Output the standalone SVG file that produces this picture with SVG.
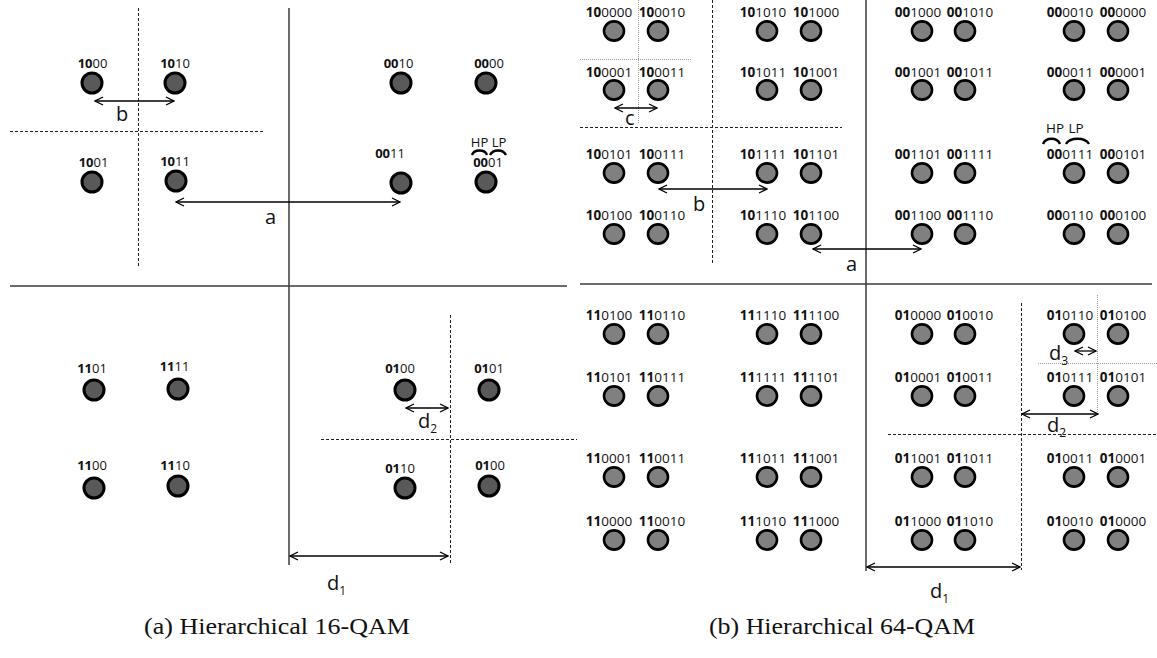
<svg xmlns="http://www.w3.org/2000/svg" width="1157" height="658" viewBox="0 0 1157 658">
<style>
.p16{fill:#595959;stroke:#000;stroke-width:3}
.p64{fill:#808080;stroke:#000;stroke-width:2.6}
.l16{font-family:"Open Sans",sans-serif;font-size:13px;fill:#111;text-anchor:middle}
.l64{font-family:"Open Sans",sans-serif;font-size:13.5px;fill:#111;text-anchor:middle}
.b{font-weight:bold}
.axis{stroke:#3a3a3a;stroke-width:1.5;fill:none}
.dash{stroke:#222;stroke-width:1;stroke-dasharray:3 2;fill:none}
.dot{stroke:#9a9a9a;stroke-width:1;stroke-dasharray:1 1;fill:none}
.arr{stroke:#000;stroke-width:1.3;fill:none;marker-start:url(#ah);marker-end:url(#ah)}
.sym{font-family:"Open Sans",sans-serif;font-size:20px;fill:#111}
.sub{font-size:12px}
.brace{stroke:#000;stroke-width:2.4;fill:none}
.cap{font-family:"Liberation Serif",serif;font-size:24px;fill:#111}
</style>
<defs>
<marker id="ah" viewBox="0 0 10 10" refX="9" refY="5" markerWidth="10" markerHeight="10" markerUnits="userSpaceOnUse" orient="auto-start-reverse">
<path d="M1,1 L9,5 L1,9" fill="none" stroke="#000" stroke-width="1.3"/>
</marker>
</defs>
<rect width="1157" height="658" fill="#fff"/>

<g id="grid">
<line class="axis" x1="289" y1="8" x2="289" y2="565"/>
<line class="axis" x1="10" y1="286" x2="567" y2="286"/>
<line class="dash" x1="138.5" y1="8" x2="138.5" y2="266"/>
<line class="dash" x1="10" y1="131.5" x2="265" y2="131.5"/>
<line class="dash" x1="450.5" y1="315" x2="450.5" y2="565"/>
<line class="dash" x1="321" y1="439.5" x2="577" y2="439.5"/>

<line class="axis" x1="866" y1="0" x2="866" y2="571"/>
<line class="axis" x1="580" y1="284" x2="1152" y2="284"/>
<line class="dash" x1="712.5" y1="0" x2="712.5" y2="265"/>
<line class="dash" x1="580" y1="127.5" x2="842" y2="127.5"/>
<line class="dot" x1="638.5" y1="0" x2="638.5" y2="123"/>
<line class="dot" x1="580" y1="59.5" x2="692" y2="59.5"/>
<line class="dash" x1="1021.5" y1="303" x2="1021.5" y2="570"/>
<line class="dash" x1="888" y1="434.5" x2="1157" y2="434.5"/>
<line class="dot" x1="1097.5" y1="295" x2="1097.5" y2="415"/>
<line class="dot" x1="1038" y1="363.5" x2="1157" y2="363.5"/>
</g>

<g id="nodes16">
<g id="q16-1000"><circle class="p16" cx="92" cy="83" r="10"/><text class="l16" x="92.5" y="68"><tspan class="b">10</tspan>00</text></g>
<g id="q16-1010"><circle class="p16" cx="175" cy="83" r="10"/><text class="l16" x="175" y="68"><tspan class="b">10</tspan>10</text></g>
<g id="q16-0010"><circle class="p16" cx="401" cy="83" r="10"/><text class="l16" x="398.5" y="68"><tspan class="b">00</tspan>10</text></g>
<g id="q16-0000"><circle class="p16" cx="486" cy="83" r="10"/><text class="l16" x="489" y="68"><tspan class="b">00</tspan>00</text></g>
<g id="q16-1001"><circle class="p16" cx="92" cy="182" r="10"/><text class="l16" x="93.5" y="167"><tspan class="b">10</tspan>01</text></g>
<g id="q16-1011"><circle class="p16" cx="176" cy="181" r="10"/><text class="l16" x="175" y="166"><tspan class="b">10</tspan>11</text></g>
<g id="q16-0011"><circle class="p16" cx="401" cy="183" r="10"/><text class="l16" x="390" y="158"><tspan class="b">00</tspan>11</text></g>
<g id="q16-0001"><circle class="p16" cx="486" cy="182" r="10"/><text class="l16" x="488" y="167"><tspan class="b">00</tspan>01</text>
<text class="l16" x="479.5" y="147">HP</text><text class="l16" x="499" y="147">LP</text>
<path class="brace" d="M472,155 C474,149 485,149 487,155"/><path class="brace" d="M490,155 C493,149 503,149 506,155"/></g>
<g id="q16-1101"><circle class="p16" cx="94" cy="390" r="10"/><text class="l16" x="92" y="373"><tspan class="b">11</tspan>01</text></g>
<g id="q16-1111"><circle class="p16" cx="178" cy="389" r="10"/><text class="l16" x="174.5" y="371"><tspan class="b">11</tspan>11</text></g>
<g id="q16-0100a"><circle class="p16" cx="405" cy="390" r="10"/><text class="l16" x="400" y="373"><tspan class="b">01</tspan>00</text></g>
<g id="q16-0101"><circle class="p16" cx="489" cy="390" r="10"/><text class="l16" x="489" y="373"><tspan class="b">01</tspan>01</text></g>
<g id="q16-1100"><circle class="p16" cx="94" cy="488" r="10"/><text class="l16" x="92" y="470"><tspan class="b">11</tspan>00</text></g>
<g id="q16-1110"><circle class="p16" cx="178" cy="486" r="10"/><text class="l16" x="175" y="470"><tspan class="b">11</tspan>10</text></g>
<g id="q16-0110"><circle class="p16" cx="405" cy="488" r="10"/><text class="l16" x="400" y="473"><tspan class="b">01</tspan>10</text></g>
<g id="q16-0100b"><circle class="p16" cx="489" cy="486" r="10"/><text class="l16" x="490" y="470"><tspan class="b">01</tspan>00</text></g>
</g>

<g id="nodes64">
<g id="q64-100000"><ellipse class="p64" cx="614" cy="31" rx="10" ry="9.6"/><text class="l64" x="609" y="17"><tspan class="b">10</tspan>0000</text></g>
<g id="q64-100010"><ellipse class="p64" cx="658" cy="31" rx="10" ry="9.6"/><text class="l64" x="662" y="17"><tspan class="b">10</tspan>0010</text></g>
<g id="q64-101010"><ellipse class="p64" cx="767" cy="31" rx="10" ry="9.6"/><text class="l64" x="763" y="17"><tspan class="b">10</tspan>1010</text></g>
<g id="q64-101000"><ellipse class="p64" cx="811" cy="31" rx="10" ry="9.6"/><text class="l64" x="816" y="17"><tspan class="b">10</tspan>1000</text></g>
<g id="q64-001000"><ellipse class="p64" cx="922" cy="31" rx="10" ry="9.6"/><text class="l64" x="918" y="17"><tspan class="b">00</tspan>1000</text></g>
<g id="q64-001010"><ellipse class="p64" cx="965" cy="31" rx="10" ry="9.6"/><text class="l64" x="970" y="17"><tspan class="b">00</tspan>1010</text></g>
<g id="q64-000010"><ellipse class="p64" cx="1074" cy="31" rx="10" ry="9.6"/><text class="l64" x="1070" y="17"><tspan class="b">00</tspan>0010</text></g>
<g id="q64-000000"><ellipse class="p64" cx="1118" cy="31" rx="10" ry="9.6"/><text class="l64" x="1123" y="17"><tspan class="b">00</tspan>0000</text></g>
<g id="q64-100001"><ellipse class="p64" cx="614" cy="90" rx="10" ry="9.6"/><text class="l64" x="609" y="77"><tspan class="b">10</tspan>0001</text></g>
<g id="q64-100011"><ellipse class="p64" cx="658" cy="90" rx="10" ry="9.6"/><text class="l64" x="662" y="77"><tspan class="b">10</tspan>0011</text></g>
<g id="q64-101011"><ellipse class="p64" cx="767" cy="90" rx="10" ry="9.6"/><text class="l64" x="763" y="77"><tspan class="b">10</tspan>1011</text></g>
<g id="q64-101001"><ellipse class="p64" cx="811" cy="90" rx="10" ry="9.6"/><text class="l64" x="816" y="77"><tspan class="b">10</tspan>1001</text></g>
<g id="q64-001001"><ellipse class="p64" cx="922" cy="90" rx="10" ry="9.6"/><text class="l64" x="918" y="77"><tspan class="b">00</tspan>1001</text></g>
<g id="q64-001011"><ellipse class="p64" cx="965" cy="90" rx="10" ry="9.6"/><text class="l64" x="970" y="77"><tspan class="b">00</tspan>1011</text></g>
<g id="q64-000011"><ellipse class="p64" cx="1074" cy="90" rx="10" ry="9.6"/><text class="l64" x="1070" y="77"><tspan class="b">00</tspan>0011</text></g>
<g id="q64-000001"><ellipse class="p64" cx="1118" cy="90" rx="10" ry="9.6"/><text class="l64" x="1123" y="77"><tspan class="b">00</tspan>0001</text></g>
<g id="q64-100101"><ellipse class="p64" cx="614" cy="173" rx="10" ry="9.6"/><text class="l64" x="609" y="159"><tspan class="b">10</tspan>0101</text></g>
<g id="q64-100111"><ellipse class="p64" cx="658" cy="173" rx="10" ry="9.6"/><text class="l64" x="662" y="159"><tspan class="b">10</tspan>0111</text></g>
<g id="q64-101111"><ellipse class="p64" cx="767" cy="173" rx="10" ry="9.6"/><text class="l64" x="763" y="159"><tspan class="b">10</tspan>1111</text></g>
<g id="q64-101101"><ellipse class="p64" cx="811" cy="173" rx="10" ry="9.6"/><text class="l64" x="816" y="159"><tspan class="b">10</tspan>1101</text></g>
<g id="q64-001101"><ellipse class="p64" cx="922" cy="173" rx="10" ry="9.6"/><text class="l64" x="918" y="159"><tspan class="b">00</tspan>1101</text></g>
<g id="q64-001111"><ellipse class="p64" cx="965" cy="173" rx="10" ry="9.6"/><text class="l64" x="970" y="159"><tspan class="b">00</tspan>1111</text></g>
<g id="q64-000111"><ellipse class="p64" cx="1074" cy="173" rx="10" ry="9.6"/><text class="l64" x="1070" y="159"><tspan class="b">00</tspan>0111</text>
<text class="l64" x="1055" y="133">HP</text><text class="l64" x="1076" y="133">LP</text>
<path class="brace" d="M1043,144 C1046,137 1057,137 1060,144"/><path class="brace" d="M1066,144 C1070,137 1085,137 1089,144"/></g>
<g id="q64-000101"><ellipse class="p64" cx="1118" cy="173" rx="10" ry="9.6"/><text class="l64" x="1123" y="159"><tspan class="b">00</tspan>0101</text></g>
<g id="q64-100100"><ellipse class="p64" cx="614" cy="234" rx="10" ry="9.6"/><text class="l64" x="609" y="220"><tspan class="b">10</tspan>0100</text></g>
<g id="q64-100110"><ellipse class="p64" cx="658" cy="234" rx="10" ry="9.6"/><text class="l64" x="662" y="220"><tspan class="b">10</tspan>0110</text></g>
<g id="q64-101110"><ellipse class="p64" cx="767" cy="234" rx="10" ry="9.6"/><text class="l64" x="763" y="220"><tspan class="b">10</tspan>1110</text></g>
<g id="q64-101100"><ellipse class="p64" cx="811" cy="234" rx="10" ry="9.6"/><text class="l64" x="816" y="220"><tspan class="b">10</tspan>1100</text></g>
<g id="q64-001100"><ellipse class="p64" cx="922" cy="234" rx="10" ry="9.6"/><text class="l64" x="918" y="220"><tspan class="b">00</tspan>1100</text></g>
<g id="q64-001110"><ellipse class="p64" cx="965" cy="234" rx="10" ry="9.6"/><text class="l64" x="970" y="220"><tspan class="b">00</tspan>1110</text></g>
<g id="q64-000110"><ellipse class="p64" cx="1074" cy="234" rx="10" ry="9.6"/><text class="l64" x="1070" y="220"><tspan class="b">00</tspan>0110</text></g>
<g id="q64-000100"><ellipse class="p64" cx="1118" cy="234" rx="10" ry="9.6"/><text class="l64" x="1123" y="220"><tspan class="b">00</tspan>0100</text></g>
<g id="q64-110100"><ellipse class="p64" cx="614" cy="334" rx="10" ry="9.6"/><text class="l64" x="609" y="320"><tspan class="b">11</tspan>0100</text></g>
<g id="q64-110110"><ellipse class="p64" cx="658" cy="334" rx="10" ry="9.6"/><text class="l64" x="662" y="320"><tspan class="b">11</tspan>0110</text></g>
<g id="q64-111110"><ellipse class="p64" cx="767" cy="334" rx="10" ry="9.6"/><text class="l64" x="763" y="320"><tspan class="b">11</tspan>1110</text></g>
<g id="q64-111100"><ellipse class="p64" cx="811" cy="334" rx="10" ry="9.6"/><text class="l64" x="816" y="320"><tspan class="b">11</tspan>1100</text></g>
<g id="q64-010000"><ellipse class="p64" cx="922" cy="334" rx="10" ry="9.6"/><text class="l64" x="918" y="320"><tspan class="b">01</tspan>0000</text></g>
<g id="q64-010010"><ellipse class="p64" cx="965" cy="334" rx="10" ry="9.6"/><text class="l64" x="970" y="320"><tspan class="b">01</tspan>0010</text></g>
<g id="q64-010110"><ellipse class="p64" cx="1074" cy="334" rx="10" ry="9.6"/><text class="l64" x="1070" y="320"><tspan class="b">01</tspan>0110</text></g>
<g id="q64-010100"><ellipse class="p64" cx="1118" cy="334" rx="10" ry="9.6"/><text class="l64" x="1123" y="320"><tspan class="b">01</tspan>0100</text></g>
<g id="q64-110101"><ellipse class="p64" cx="614" cy="396" rx="10" ry="9.6"/><text class="l64" x="609" y="382"><tspan class="b">11</tspan>0101</text></g>
<g id="q64-110111"><ellipse class="p64" cx="658" cy="396" rx="10" ry="9.6"/><text class="l64" x="662" y="382"><tspan class="b">11</tspan>0111</text></g>
<g id="q64-111111"><ellipse class="p64" cx="767" cy="396" rx="10" ry="9.6"/><text class="l64" x="763" y="382"><tspan class="b">11</tspan>1111</text></g>
<g id="q64-111101"><ellipse class="p64" cx="811" cy="396" rx="10" ry="9.6"/><text class="l64" x="816" y="382"><tspan class="b">11</tspan>1101</text></g>
<g id="q64-010001"><ellipse class="p64" cx="922" cy="396" rx="10" ry="9.6"/><text class="l64" x="918" y="382"><tspan class="b">01</tspan>0001</text></g>
<g id="q64-010011"><ellipse class="p64" cx="965" cy="396" rx="10" ry="9.6"/><text class="l64" x="970" y="382"><tspan class="b">01</tspan>0011</text></g>
<g id="q64-010111"><ellipse class="p64" cx="1074" cy="396" rx="10" ry="9.6"/><text class="l64" x="1070" y="382"><tspan class="b">01</tspan>0111</text></g>
<g id="q64-010101"><ellipse class="p64" cx="1118" cy="396" rx="10" ry="9.6"/><text class="l64" x="1123" y="382"><tspan class="b">01</tspan>0101</text></g>
<g id="q64-110001"><ellipse class="p64" cx="614" cy="477" rx="10" ry="9.6"/><text class="l64" x="609" y="463"><tspan class="b">11</tspan>0001</text></g>
<g id="q64-110011"><ellipse class="p64" cx="658" cy="477" rx="10" ry="9.6"/><text class="l64" x="662" y="463"><tspan class="b">11</tspan>0011</text></g>
<g id="q64-111011"><ellipse class="p64" cx="767" cy="477" rx="10" ry="9.6"/><text class="l64" x="763" y="463"><tspan class="b">11</tspan>1011</text></g>
<g id="q64-111001"><ellipse class="p64" cx="811" cy="477" rx="10" ry="9.6"/><text class="l64" x="816" y="463"><tspan class="b">11</tspan>1001</text></g>
<g id="q64-011001"><ellipse class="p64" cx="922" cy="477" rx="10" ry="9.6"/><text class="l64" x="918" y="463"><tspan class="b">01</tspan>1001</text></g>
<g id="q64-011011"><ellipse class="p64" cx="965" cy="477" rx="10" ry="9.6"/><text class="l64" x="970" y="463"><tspan class="b">01</tspan>1011</text></g>
<g id="q64-010011b"><ellipse class="p64" cx="1074" cy="477" rx="10" ry="9.6"/><text class="l64" x="1070" y="463"><tspan class="b">01</tspan>0011</text></g>
<g id="q64-010001b"><ellipse class="p64" cx="1118" cy="477" rx="10" ry="9.6"/><text class="l64" x="1123" y="463"><tspan class="b">01</tspan>0001</text></g>
<g id="q64-110000"><ellipse class="p64" cx="614" cy="540" rx="10" ry="9.6"/><text class="l64" x="609" y="526"><tspan class="b">11</tspan>0000</text></g>
<g id="q64-110010"><ellipse class="p64" cx="658" cy="540" rx="10" ry="9.6"/><text class="l64" x="662" y="526"><tspan class="b">11</tspan>0010</text></g>
<g id="q64-111010"><ellipse class="p64" cx="767" cy="540" rx="10" ry="9.6"/><text class="l64" x="763" y="526"><tspan class="b">11</tspan>1010</text></g>
<g id="q64-111000"><ellipse class="p64" cx="811" cy="540" rx="10" ry="9.6"/><text class="l64" x="816" y="526"><tspan class="b">11</tspan>1000</text></g>
<g id="q64-011000"><ellipse class="p64" cx="922" cy="540" rx="10" ry="9.6"/><text class="l64" x="918" y="526"><tspan class="b">01</tspan>1000</text></g>
<g id="q64-011010"><ellipse class="p64" cx="965" cy="540" rx="10" ry="9.6"/><text class="l64" x="970" y="526"><tspan class="b">01</tspan>1010</text></g>
<g id="q64-010010b"><ellipse class="p64" cx="1074" cy="540" rx="10" ry="9.6"/><text class="l64" x="1070" y="526"><tspan class="b">01</tspan>0010</text></g>
<g id="q64-010000b"><ellipse class="p64" cx="1118" cy="540" rx="10" ry="9.6"/><text class="l64" x="1123" y="526"><tspan class="b">01</tspan>0000</text></g>
</g>

<g id="connectors">
<line class="arr" x1="95" y1="101" x2="174" y2="101"/>
<line class="arr" x1="176" y1="202" x2="400" y2="202"/>
<line class="arr" x1="406" y1="408" x2="448" y2="408"/>
<line class="arr" x1="290" y1="556" x2="448" y2="556"/>
<line class="arr" x1="615" y1="108" x2="657" y2="108"/>
<line class="arr" x1="659" y1="189" x2="767" y2="189"/>
<line class="arr" x1="813" y1="249" x2="921" y2="249"/>
<line class="arr" x1="1075" y1="351" x2="1096" y2="351"/>
<line class="arr" x1="1022" y1="414" x2="1098" y2="414"/>
<line class="arr" x1="867" y1="567" x2="1020" y2="567"/>
</g>

<g id="labels">
<text class="sym" x="116" y="121">b</text>
<text class="sym" x="265" y="224">a</text>
<text class="sym" x="418" y="428">d<tspan class="sub" dy="5">2</tspan></text>
<text class="sym" x="327" y="590">d<tspan class="sub" dy="5">1</tspan></text>
<text class="sym" x="625" y="125">c</text>
<text class="sym" x="693" y="211">b</text>
<text class="sym" x="846" y="271">a</text>
<text class="sym" x="1049" y="360">d<tspan class="sub" dy="5">3</tspan></text>
<text class="sym" x="1047" y="432">d<tspan class="sub" dy="5">2</tspan></text>
<text class="sym" x="930" y="598">d<tspan class="sub" dy="5">1</tspan></text>
<text class="cap" x="144" y="634" textLength="266" lengthAdjust="spacingAndGlyphs">(a) Hierarchical 16-QAM</text>
<text class="cap" x="709" y="634" textLength="266" lengthAdjust="spacingAndGlyphs">(b) Hierarchical 64-QAM</text>
</g>
</svg>
